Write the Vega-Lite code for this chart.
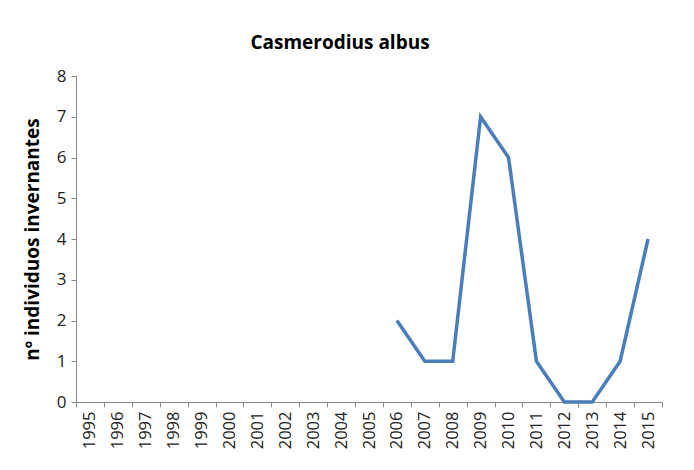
{
  "$schema": "https://vega.github.io/schema/vega-lite/v6.json",
  "width": 586,
  "height": 326,
  "autosize": {"type": "none"},
  "padding": {"left": 76, "top": 76, "right": 32, "bottom": 68},
  "background": "white",
  "title": {
    "text": "Casmerodius albus",
    "font": "Open Sans",
    "fontSize": 19,
    "fontWeight": "bold",
    "color": "#000000",
    "anchor": "middle",
    "dx": -29,
    "offset": 14
  },
  "data": {
    "values": [
      {"year": "1995", "n": null},
      {"year": "1996", "n": null},
      {"year": "1997", "n": null},
      {"year": "1998", "n": null},
      {"year": "1999", "n": null},
      {"year": "2000", "n": null},
      {"year": "2001", "n": null},
      {"year": "2002", "n": null},
      {"year": "2003", "n": null},
      {"year": "2004", "n": null},
      {"year": "2005", "n": null},
      {"year": "2006", "n": 2},
      {"year": "2007", "n": 1},
      {"year": "2008", "n": 1},
      {"year": "2009", "n": 7},
      {"year": "2010", "n": 6},
      {"year": "2011", "n": 1},
      {"year": "2012", "n": 0},
      {"year": "2013", "n": 0},
      {"year": "2014", "n": 1},
      {"year": "2015", "n": 4}
    ]
  },
  "mark": {"type": "line", "color": "#4a7ebb", "strokeWidth": 3.5, "strokeJoin": "miter"},
  "encoding": {
    "x": {
      "field": "year",
      "type": "ordinal",
      "scale": {
        "domain": ["1995","1996","1997","1998","1999","2000","2001","2002","2003","2004","2005","2006","2007","2008","2009","2010","2011","2012","2013","2014","2015"],
        "paddingInner": 0,
        "paddingOuter": 0
      },
      "axis": {
        "title": null,
        "tickBand": "extent",
        "labelAngle": -90,
        "labelFont": "Open Sans",
        "labelFontSize": 16.5,
        "labelColor": "#222222",
        "labelPadding": 4,
        "domainColor": "#868686",
        "tickColor": "#868686",
        "tickSize": 5,
        "grid": false
      }
    },
    "y": {
      "field": "n",
      "type": "quantitative",
      "scale": {"domain": [0, 8], "nice": false},
      "axis": {
        "title": "nº individuos invernantes",
        "titleFont": "Open Sans",
        "titleFontSize": 19,
        "titleFontWeight": "bold",
        "titleColor": "#000000",
        "titlePadding": 14,
        "values": [0,1,2,3,4,5,6,7,8],
        "labelFont": "Open Sans",
        "labelFontSize": 17,
        "labelColor": "#222222",
        "labelPadding": 5,
        "domainColor": "#868686",
        "tickColor": "#868686",
        "tickSize": 5,
        "grid": false
      }
    }
  },
  "config": {"view": {"stroke": null}}
}
